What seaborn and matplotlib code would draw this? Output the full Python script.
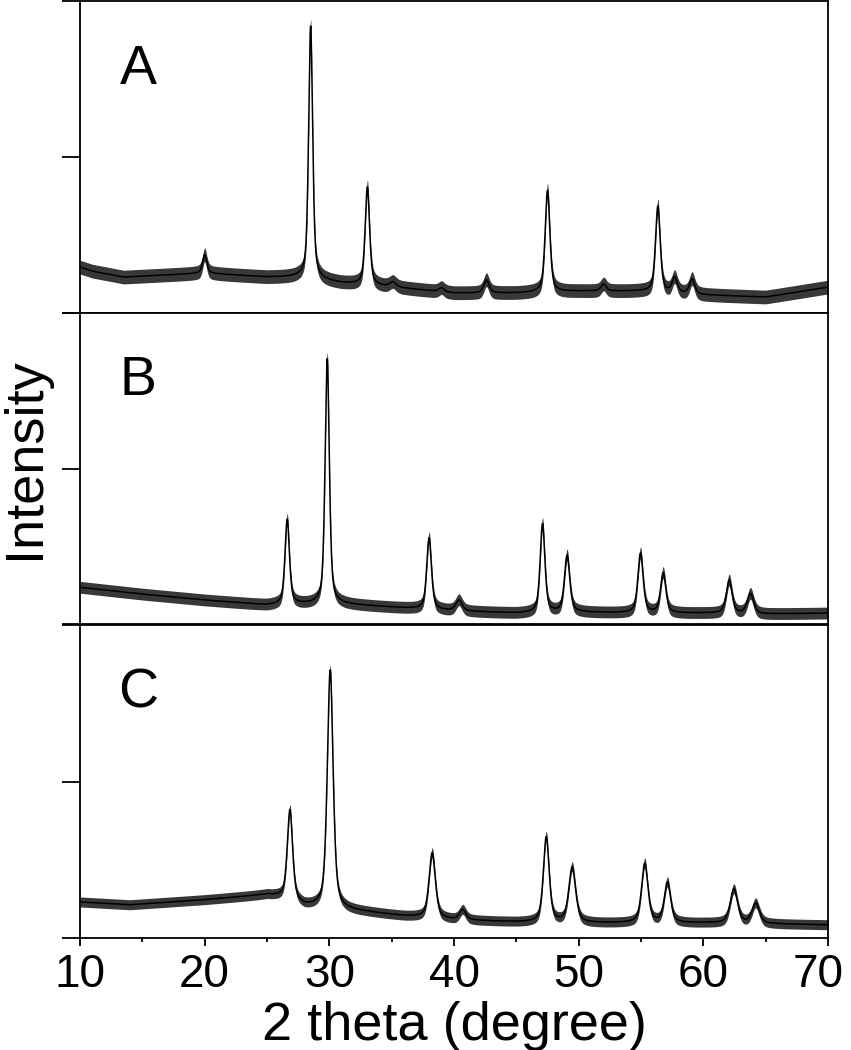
"""
XRD patterns of three samples (A, B, C), stacked panels sharing 2-theta axis.
"""
import matplotlib
matplotlib.use("Agg")
import matplotlib.pyplot as plt
import matplotlib.ticker as mticker
import matplotlib.transforms as mtransforms
import numpy as np
import seaborn as sns

# ---------------------------------------------------------------------------
# Data (intensity in a.u., panel height = 1000)
# ---------------------------------------------------------------------------

# background level (centre of the noise band) at a few 2-theta positions
bg_x_a = [10, 11, 13.5, 20, 25, 27.5, 31, 35, 40, 45, 50, 55, 60, 65, 68, 70]
bg_y_a = [147, 134, 115, 128, 115, 115, 96, 83, 64, 64, 70, 70, 58, 51, 70, 83]

bg_x_b = [10, 15, 20, 25, 27, 29, 31, 35, 40, 45, 50, 55, 60, 65, 70]
bg_y_b = [118, 96, 77, 61, 64, 64, 64, 54, 42, 35, 38, 35, 35, 32, 35]

bg_x_c = [10, 14, 20, 25, 26.5, 28, 29.5, 31, 33, 36, 40, 45, 50, 55, 60, 65, 70]
bg_y_c = [115, 106, 122, 138, 128, 102, 96, 90, 83, 70, 58, 51, 48, 48, 48, 45, 42]

# reflections: position (deg), net height above background, FWHM (deg)
peak_pos_a = [20.0, 28.5, 33.05, 35.1, 39.0, 42.6, 47.5, 52.0, 56.35, 57.7, 59.1]
peak_hgt_a = [58, 810, 314, 16, 13, 42, 326, 22, 275, 48, 48]
peak_fwhm_a = [0.4, 0.38, 0.42, 0.6, 0.5, 0.5, 0.45, 0.5, 0.45, 0.5, 0.5]

peak_pos_b = [26.62, 29.83, 38.0, 40.4, 47.1, 49.07, 54.96, 56.78, 62.07, 63.78]
peak_hgt_b = [272, 790, 230, 35, 285, 182, 192, 128, 106, 64]
peak_fwhm_b = [0.42, 0.4, 0.45, 0.6, 0.45, 0.5, 0.5, 0.5, 0.55, 0.6]

peak_pos_c = [26.84, 30.07, 38.25, 40.7, 47.4, 49.48, 55.3, 57.12, 62.45, 64.2]
peak_hgt_c = [285, 762, 208, 32, 272, 176, 189, 128, 109, 64]
peak_fwhm_c = [0.5, 0.55, 0.6, 0.6, 0.55, 0.65, 0.6, 0.6, 0.7, 0.7]

# half width of the counting-noise band
noise_a = 22
noise_b = 19
noise_c = 16

panel_labels = ["A", "B", "C"]
x_ticks = [10, 20, 30, 40, 50, 60, 70]


# ---------------------------------------------------------------------------
# Helpers
# ---------------------------------------------------------------------------

def pattern(tt, bg_x, bg_y, pos, hgt, fwhm, eta=0.55):
    """Background + pseudo-Voigt reflections."""
    y = np.interp(tt, bg_x, bg_y).astype(float)
    for p, h, w in zip(pos, hgt, fwhm):
        d = (tt - p) / (w / 2)
        lor = 1.0 / (1.0 + d ** 2)
        gau = np.exp(-np.log(2) * d ** 2)
        y += h * (eta * lor + (1 - eta) * gau)
    return y


two_theta = np.arange(10, 70.001, 0.02)
curves = [
    (pattern(two_theta, bg_x_a, bg_y_a, peak_pos_a, peak_hgt_a, peak_fwhm_a), noise_a),
    (pattern(two_theta, bg_x_b, bg_y_b, peak_pos_b, peak_hgt_b, peak_fwhm_b), noise_b),
    (pattern(two_theta, bg_x_c, bg_y_c, peak_pos_c, peak_hgt_c, peak_fwhm_c), noise_c),
]

# ---------------------------------------------------------------------------
# Figure
# ---------------------------------------------------------------------------

sns.set_theme(style="ticks")
plt.rcParams["font.family"] = ["Liberation Sans", "DejaVu Sans"]

fig = plt.figure(figsize=(8.51, 10.5), dpi=100)

left, width = 80 / 851, (828 - 80) / 851
panel_px = [(1, 313), (313, 624), (625, 938)]

axes = []
for (top, bot), label, (y, nz) in zip(panel_px, panel_labels, curves):
    ax = fig.add_axes([left, 1 - bot / 1050, width, (bot - top) / 1050])
    ax.fill_between(two_theta, y - nz, y + nz, color="black", alpha=0.78, lw=0)
    sns.lineplot(x=two_theta, y=y, ax=ax, color="black", lw=1.1,
                 estimator=None, sort=False)
    ax.set_xlim(10, 70)
    ax.set_ylim(0, 1000)
    ax.set_yticks([0, 500, 1000])
    ax.yaxis.set_major_formatter(mticker.NullFormatter())
    ax.set_xticks(x_ticks)
    ax.xaxis.set_minor_locator(mticker.MultipleLocator(5))
    ax.tick_params(axis="y", direction="out", length=13, width=1.3, color="black")
    ax.tick_params(axis="x", which="major", direction="out", length=6, width=1.3,
                   color="black", labelsize=33, pad=5, labelcolor="black")
    ax.tick_params(axis="x", which="minor", direction="out", length=3, width=1.3,
                   color="black")
    ax.set_xlabel("")
    ax.set_ylabel("")
    for sp in ax.spines.values():
        sp.set_visible(True)
        sp.set_color("black")
        sp.set_linewidth(1.3)
    ax.text(14.65, 780, label, fontsize=40, ha="center", va="center", color="black")
    axes.append(ax)

for ax in axes[:-1]:
    ax.tick_params(axis="x", which="both", bottom=False, labelbottom=False)

# keep the last tick label ("70") inside the canvas, as in the original
last = axes[-1].get_xticklabels()[-1]
last.set_transform(last.get_transform() +
                   mtransforms.ScaledTranslation(-10 / 100, 0, fig.dpi_scale_trans))

fig.text(454 / 851, 10 / 1050, "2 theta (degree)", fontsize=39, ha="center",
         va="baseline", color="black")
fig.text(25 / 851, 1 - 458 / 1050, "Intensity", fontsize=39, rotation=90,
         ha="center", va="center", color="black")

fig.savefig("out.png", dpi=100)
